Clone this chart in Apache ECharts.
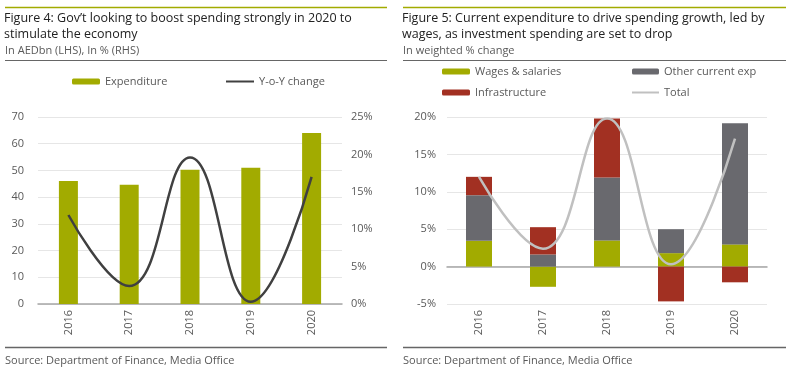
<!DOCTYPE html>
<html><head><meta charset="utf-8">
<script src="https://cdn.jsdelivr.net/npm/echarts@6/dist/echarts.min.js"></script>
<style>html,body{margin:0;padding:0;background:#fff}#c{width:800px;height:380px}</style>
</head><body><div id="c"></div>
<script>
const years = ['2016','2017','2018','2019','2020'];
const expenditure = [46, 44.6, 50.3, 51, 64];
const yoyChange = [11.9, 2.4, 19.6, 0.3, 17.0];
const wages = [3.45, -2.7, 3.5, 1.8, 2.97];
const otherCurrent = [6.1, 1.62, 8.4, 3.2, 16.2];
const infrastructure = [2.45, 3.65, 7.9, -4.65, -2.1];
const total = [12.0, 2.4, 19.8, 0.3, 17.1];
const leftTicks = [0, 70, 10];
const rightTicks = [0, 25, 5];
const rTicks = [-5, 20, 5];

const FONT = 'Open Sans';
const OLIVE = '#A2AB00', GREY = '#69696E', RED = '#A23022', DARK = '#404040', LIGHT = '#C0C0C0';
const lab = {color:'#595959', fontSize:11, fontFamily:FONT};
const chart = echarts.init(document.getElementById('c'), null, {renderer:'canvas'});
function hline(x1,x2,y,color,w){return {type:'line',shape:{x1:x1,y1:y,x2:x2,y2:y},style:{stroke:color,lineWidth:w},silent:true};}
const titleStyle = {color:'#222', fontSize:12.5, fontWeight:'normal', fontFamily:FONT, lineHeight:16};
const subStyle = {color:'#595959', fontSize:11, fontWeight:'normal', fontFamily:FONT};
chart.setOption({
  animation:false,
  textStyle:{fontFamily:FONT},
  title:[
    {text:'Figure 4: Gov\u2019t looking to boost spending strongly in 2020 to\nstimulate the economy', left:4, top:10, padding:0, textStyle:titleStyle},
    {text:'In AEDbn (LHS), In % (RHS)', left:5, top:45, padding:0, textStyle:subStyle},
    {text:'Source: Department of Finance, Media Office', left:5, top:355, padding:0, textStyle:subStyle},
    {text:'Figure 5: Current expenditure to drive spending growth, led by\nwages, as investment spending are set to drop', left:402, top:10, padding:0, textStyle:titleStyle},
    {text:'In weighted % change', left:403, top:45, padding:0, textStyle:subStyle},
    {text:'Source: Department of Finance, Media Office', left:403, top:355, padding:0, textStyle:subStyle}
  ],
  graphic:[
    hline(5,387,7.5,OLIVE,1.5), hline(5,387,60.5,'#666',1.2), hline(5,387,347.5,'#666',1.5),
    hline(403,786,7.5,OLIVE,1.5), hline(403,786,60.5,'#666',1.2), hline(403,786,347.5,'#666',1.5)
  ],
  legend:[
    {data:['Expenditure'], left:72, top:76, itemWidth:28, itemHeight:6, itemGap:4, padding:0, textStyle:lab},
    {data:[{name:'Y-o-Y change', icon:'rect'}], left:226, top:76, itemWidth:28, itemHeight:2, padding:0, textStyle:lab},
    {data:['Wages & salaries'], left:442, top:66, itemWidth:28, itemHeight:6, padding:0, textStyle:lab},
    {data:['Other current exp'], left:632, top:66, itemWidth:27, itemHeight:6, padding:0, textStyle:lab},
    {data:['Infrastructure'], left:442, top:87, itemWidth:28, itemHeight:6, padding:0, textStyle:lab},
    {data:[{name:'Total', icon:'rect'}], left:632, top:87, itemWidth:27, itemHeight:2, padding:0, textStyle:lab}
  ],
  grid:[
    {left:38, right:458, top:117, bottom:76},
    {left:447, right:33, top:117, bottom:76}
  ],
  xAxis:[
    {type:'category', gridIndex:0, data:years, axisTick:{show:false}, axisLine:{lineStyle:{color:'#A6A6A6', width:1.5}},
     axisLabel:Object.assign({rotate:90, margin:6}, lab)},
    {type:'category', gridIndex:1, data:years, axisTick:{show:false}, axisLine:{onZero:true, lineStyle:{color:'#A6A6A6', width:1.5}},
     axisLabel:Object.assign({rotate:90, margin:6}, lab), position:'bottom'}
  ],
  yAxis:[
    {type:'value', gridIndex:0, min:leftTicks[0], max:leftTicks[1], interval:leftTicks[2],
     axisLine:{show:false}, axisTick:{show:false}, axisLabel:Object.assign({margin:14}, lab),
     splitLine:{lineStyle:{color:'#E6E6E6', width:1}}},
    {type:'value', gridIndex:0, min:rightTicks[0], max:rightTicks[1], interval:rightTicks[2], position:'right',
     axisLine:{show:false}, axisTick:{show:false}, axisLabel:Object.assign({margin:9, formatter:'{value}%'}, lab),
     splitLine:{show:false}},
    {type:'value', gridIndex:1, min:rTicks[0], max:rTicks[1], interval:rTicks[2],
     axisLine:{show:false}, axisTick:{show:false}, axisLabel:Object.assign({margin:11, formatter:'{value}%'}, lab),
     splitLine:{lineStyle:{color:'#E6E6E6', width:1}}}
  ],
  series:[
    {name:'Expenditure', type:'bar', xAxisIndex:0, yAxisIndex:0, data:expenditure, barWidth:19, itemStyle:{color:OLIVE}},
    {name:'Y-o-Y change', type:'line', xAxisIndex:0, yAxisIndex:1, data:yoyChange, smooth:0.45, symbol:'none',
     lineStyle:{color:DARK, width:2.5}, itemStyle:{color:DARK}},
    {name:'Wages & salaries', type:'bar', stack:'s', xAxisIndex:1, yAxisIndex:2, data:wages, barWidth:26, itemStyle:{color:OLIVE}},
    {name:'Other current exp', type:'bar', stack:'s', xAxisIndex:1, yAxisIndex:2, data:otherCurrent, barWidth:26, itemStyle:{color:GREY}},
    {name:'Infrastructure', type:'bar', stack:'s', xAxisIndex:1, yAxisIndex:2, data:infrastructure, barWidth:26, itemStyle:{color:RED}},
    {name:'Total', type:'line', xAxisIndex:1, yAxisIndex:2, data:total, smooth:0.45, symbol:'none', z:5,
     lineStyle:{color:LIGHT, width:2.5}, itemStyle:{color:LIGHT}}
  ]
});
</script></body></html>
